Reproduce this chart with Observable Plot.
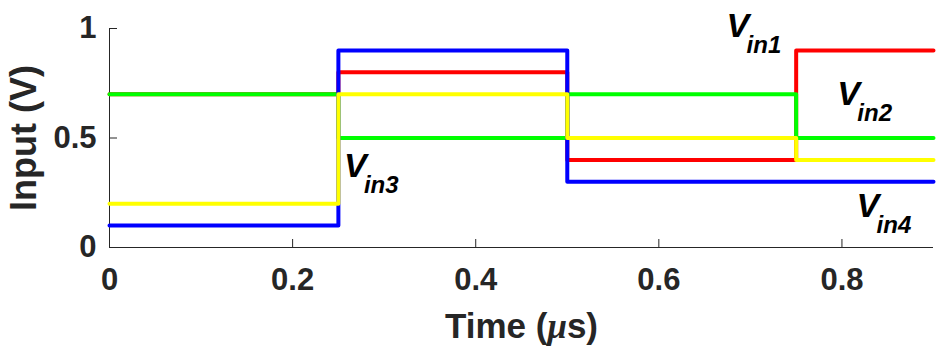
<!DOCTYPE html>
<html><head><meta charset="utf-8">
<script src="https://cdn.jsdelivr.net/npm/d3@7"></script>
<script src="https://cdn.jsdelivr.net/npm/@observablehq/plot@0.6"></script>
<style>html,body{margin:0;padding:0;background:#fff}svg{display:block}</style>
</head><body><div id="chart"></div>
<script>
// ---- data ----
const time = [0, 0.25, 0.5, 0.75, 0.9];
const vin1 = [0.7, 0.8, 0.4, 0.9, 0.9];
const vin2 = [0.7, 0.5, 0.7, 0.5, 0.5];
const vin3 = [0.2, 0.7, 0.5, 0.4, 0.4];
const vin4 = [0.1, 0.9, 0.3, 0.3, 0.3];
const seriesNames = ["Vin1", "Vin2", "Vin4", "Vin3"]; // drawing order
const seriesColors = ["#ff0000", "#00ff00", "#0000ff", "#ffff00"];
const xTicks = [0, 0.2, 0.4, 0.6, 0.8];
const yTicks = [0, 0.5, 1];
const labelSubs = ["in1", "in2", "in3", "in4"];
const labelX = [0.674, 0.795, 0.256, 0.816];
const labelY = [0.963, 0.652, 0.321, 0.141];
const xTitle = "Time (μs)";
const yTitle = "Input (V)";

const seriesValues = {Vin1: vin1, Vin2: vin2, Vin3: vin3, Vin4: vin4};
const rows = [];
for (const s of seriesNames) time.forEach((t, i) => rows.push({series: s, t, v: seriesValues[s][i]}));

const ink = "#262626";
const font = "'Liberation Sans', Arial, Helvetica, sans-serif";
const fmt = d => String(d);

const svg = Plot.plot({
  width: 944, height: 346,
  marginLeft: 109, marginRight: 11, marginTop: 28, marginBottom: 99,
  style: {fontFamily: font, fontWeight: "bold", color: ink, background: "#fff", overflow: "visible"},
  x: {domain: [0, 0.9], label: null},
  y: {domain: [0, 1], label: null},
  color: {domain: seriesNames, range: seriesColors},
  marks: [
    Plot.axisX({ticks: xTicks, tickSize: 0, tickPadding: 20, fontSize: 31, label: null, fill: ink, tickFormat: fmt}),
    Plot.axisY({ticks: yTicks, tickSize: 0, tickPadding: 13, fontSize: 31, label: null, fill: ink, tickFormat: fmt}),
    Plot.axisX({ticks: xTicks, tickSize: -8, tickFormat: () => "", label: null, stroke: ink}),
    Plot.axisY({ticks: yTicks, tickSize: -8, tickFormat: () => "", label: null, stroke: ink}),
    Plot.ruleY([0], {stroke: ink, strokeWidth: 1}),
    Plot.ruleX([0], {stroke: ink, strokeWidth: 1}),
    Plot.line(rows, {x: "t", y: "v", z: "series", stroke: "series", curve: "step-after", strokeWidth: 4, strokeLinejoin: "round", strokeLinecap: "round"}),
    Plot.text(labelSubs, {x: (d, i) => labelX[i], y: (d, i) => labelY[i], text: () => "V", textAnchor: "start", lineAnchor: "bottom", fontSize: 34, fontStyle: "italic", fontWeight: "bold", fill: "#000"}),
    Plot.text(labelSubs, {x: (d, i) => labelX[i], y: (d, i) => labelY[i], text: d => d, dx: 20, dy: 16, textAnchor: "start", lineAnchor: "bottom", fontSize: 24, fontStyle: "italic", fontWeight: "bold", fill: "#000"}),
    Plot.text([xTitle], {frameAnchor: "bottom", dy: 66, textAnchor: "middle", lineAnchor: "top", fontSize: 35, fontWeight: "bold", fill: ink}),
    Plot.text([yTitle], {frameAnchor: "left", dx: -99, rotate: -90, textAnchor: "middle", lineAnchor: "top", fontSize: 36, fontWeight: "bold", fill: ink})
  ]
});

d3.select(svg).selectAll("text").filter(function () { return this.textContent === xTitle; }).each(function () {
  const t = d3.select(this);
  const tsp = t.select("tspan").empty() ? t : t.select("tspan");
  tsp.text(null);
  tsp.append("tspan").text("Time (");
  tsp.append("tspan").attr("font-style", "italic").attr("font-family", "'Liberation Serif', 'DejaVu Serif', serif").text("μ");
  tsp.append("tspan").text("s)");
});

document.getElementById("chart").appendChild(svg);
</script>
</body></html>
